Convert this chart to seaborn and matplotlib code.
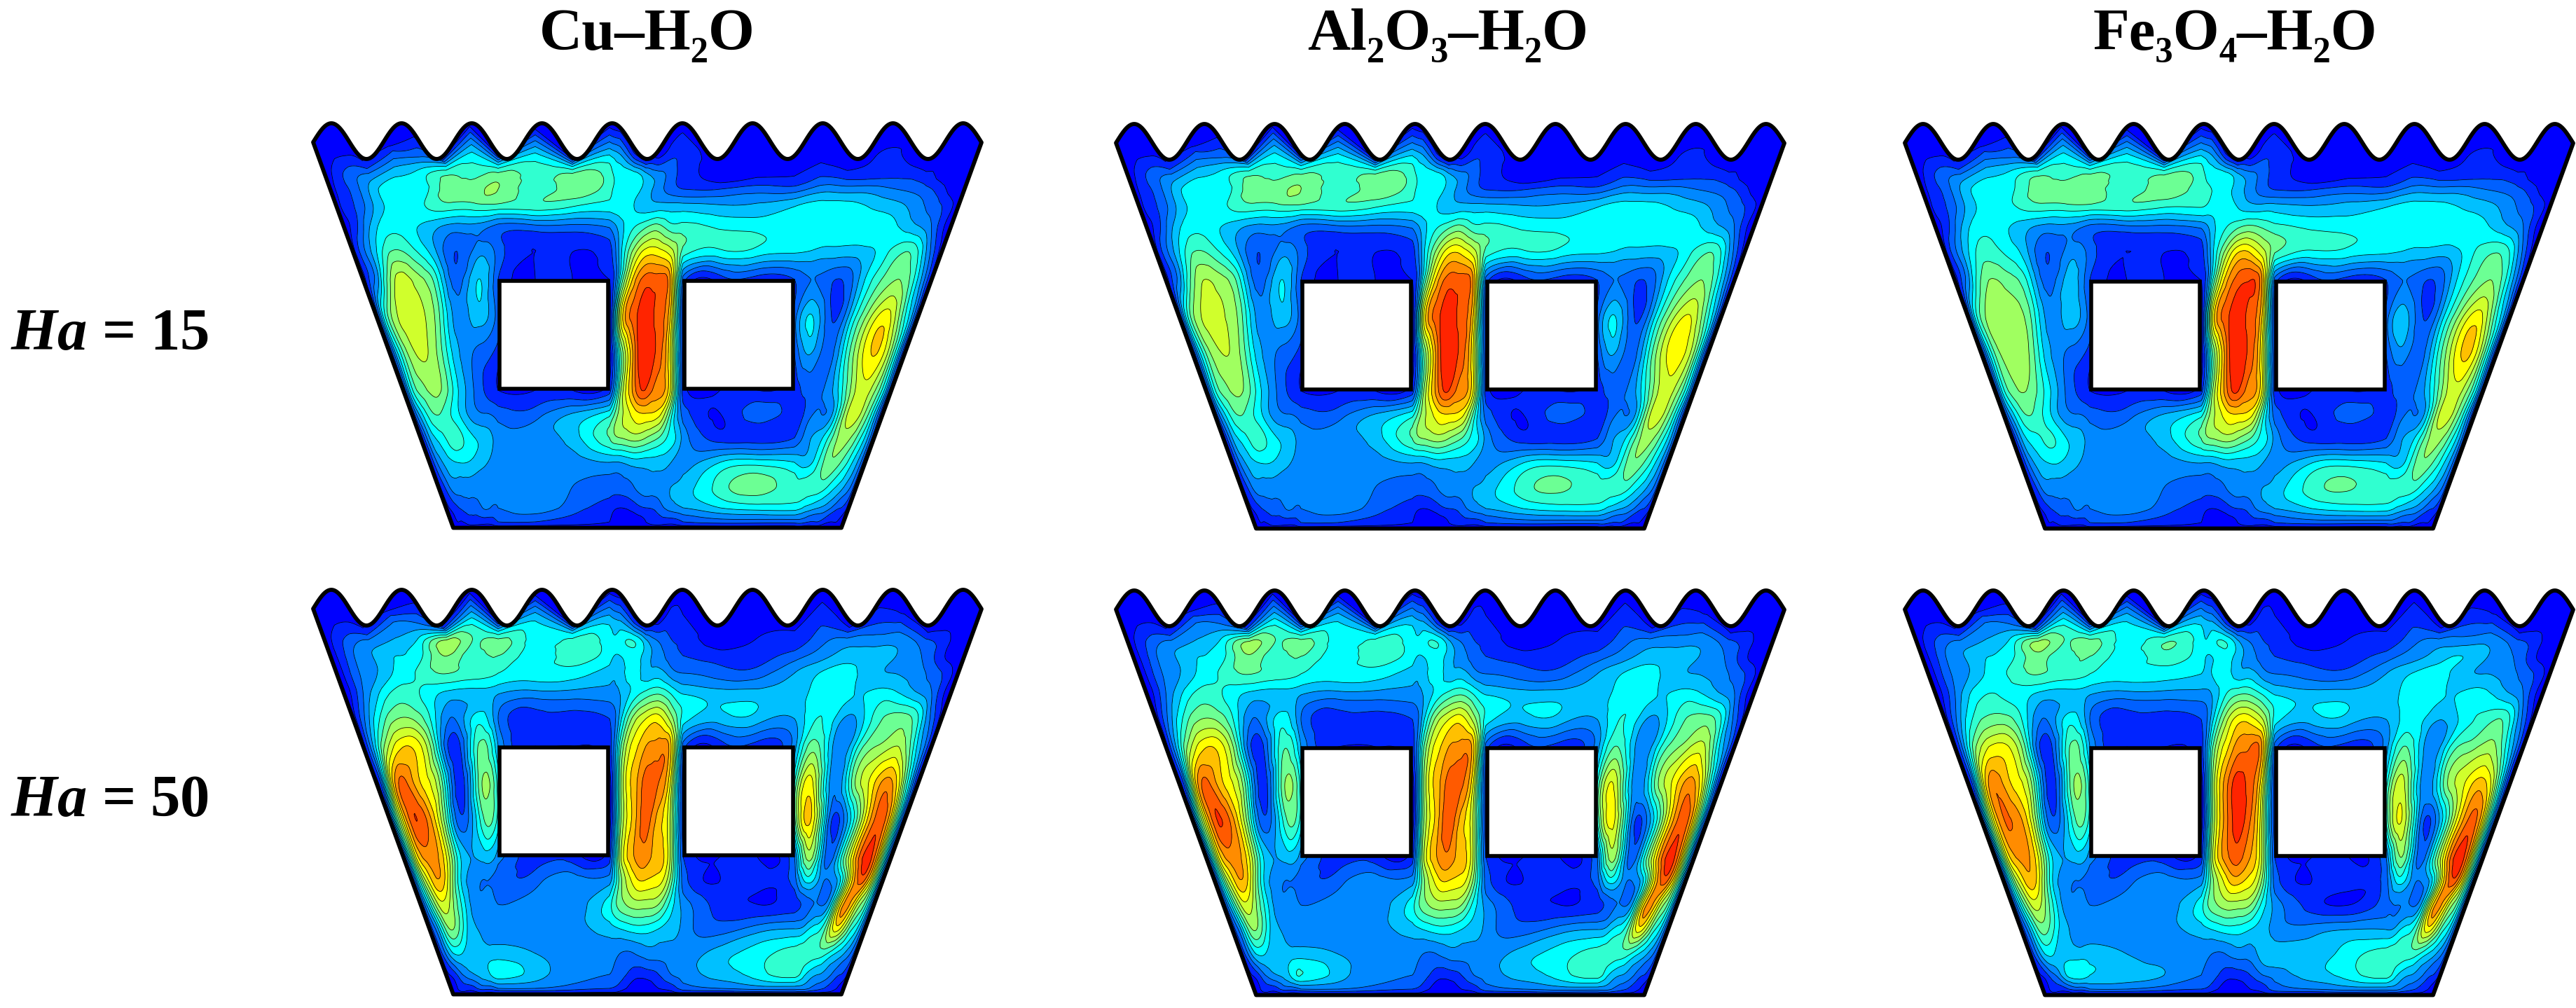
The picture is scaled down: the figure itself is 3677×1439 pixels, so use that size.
import numpy as np
import matplotlib
matplotlib.use('Agg')
import matplotlib.pyplot as plt
import matplotlib.tri as mtri
from matplotlib.patches import Polygon, Rectangle
import seaborn as sns

sns.set_theme(style='white')
plt.rcParams['font.family'] = ['Liberation Serif', 'DejaVu Serif']
plt.rcParams['mathtext.fontset'] = 'custom'
plt.rcParams['mathtext.bfit'] = 'Liberation Serif:italic:bold'
plt.rcParams['mathtext.rm'] = 'Liberation Serif:bold'

# text
fluids = ['Cu–H₂O', 'Al₂O₃–H₂O', 'Fe₃O₄–H₂O']
ha_labels = ['$\\mathbfit{Ha}$ = 15', '$\\mathbfit{Ha}$ = 50']

# colours of the contour bands
band_colors = ['#0000ff', '#0024ff', '#0060ff', '#0088ff', '#00c0ff', '#00ffff', '#30ffd0', '#6cff94',
               '#a0ff60', '#d0ff2c', '#ffff00', '#ffc000', '#ff8c00', '#ff5a00', '#ff2400']

# field values are read as band numbers (0 = deep blue ... 14 = red)
# one row per height in row_y[1:-1], one value per mesh column, walls are 0 and added later
cu_ha15 = [
    [0,0,.5,1,1.5,2.5,3.5,4,4, 4,4,3.5, 3,2,2,1,1,1, 0,0,0, 0,0,.5,.5,0,0,0,0],
    [0,1,2,3,4,5,6.5,6,7, 6,7,6, 5,5,4,3,2,1, 0,0,.5, 1,1,1,1,1,0,0,0],
    [0,1,2,4,5,5,7,7,7.5, 6,7,6, 5,5,4,3,2,1.5, 1.5,2,2, 3,3,3,2.5,2,1,0,0],
    [0,1,2,4,5,5.5,6,6,6, 6,5.5,5, 5,4.5,4,4,4,4, 3.7,3.8,4.5, 5,5,4.5,4,3,2,1,0],
    [0,1,3,5,5,4,3,3,2, 2,2,2.5, 4,5.5,6.5,7,6,6, 5.4,5.2,5.2, 5.3,5.3,5.2,5,4,3,1,0],
    [0,2,4,6.5,6,4,1.5,3,2, .5,.5,1, 4,8,10,10,9,6, 5.2,5,4.6, 4.2,4,4,5,6.5,5,2,0],
    [0,2,5,8.8,8,5.5,2,4.5,1.5, .5,.5,.5, 5,11,13,13,11,2, 1,1,1.5, 2.5,1.5,3,6,7.5,6,3,0],
    [0,5,8,9,8.5,5.5,3,4,2, 0,0,0, 9,13,14.6,13,10,1, 0,0,2, 4.5,1.5,4,8,10,7,4,0],
    [0,4,7,8.6,8,5,3,2,1, 0,0,0, 6,12,14.6,13,9,1, 0,0,1.5, 3.5,2,5,9,10.5,8,4,0],
    [0,4,6.5,7.5,7.5,5,3,1.5,.5, .5,.5,1, 7,12,13.4,12,9,1, .5,.5,1, 2,2.5,4.5,8,9,7,4,0],
    [0,3,5,6.5,6,4.5,3,2.5,2, 2,3.5,5, 8,10,10.5,10,6,2, .5,2,1, 2,2.5,4,8.5,8.5,6,3,0],
    [0,2,4,5,6,5.5,4.5,4,3, 3,4,6.5, 7.5,8,7.5,6.5,5,3, 1,1,1.5, 3,4,6,8,7,5,3,0],
    [0,1.5,3,4,4.5,4.5,4,3.5,3, 3,3,3.5, 3.5,4,4,4,3.5,3, 4.5,5,4.5, 4,5,7,7,5.5,4,2.5,0],
    [0,1,2,3,3,3,3,3,3, 3,2.5,2, 2,2.5,3,3,3.5,4, 6,7,6, 6,6,6,5,4,3,2,0],
    [0,.5,1,1.5,2,2,2.5,2.5,2.5, 3,2,1, .5,1,1.5,2,3,3.5, 4.5,5,5, 4.5,4,3.5,3,2,1.5,1,0],
    [0,0,.5,.5,1,1,1,1,1.5, 1.5,1,.5, 0,0,.5,1,1,1.5, 2,2,2, 2,1.5,1.5,1,.5,.5,0,0],
]
al_ha15 = [
    [0,0,.5,1,1.5,2.5,3.5,4,4, 4,4,3.5, 3,2,2,1,1,1, 0,0,0, 0,0,.5,.5,0,0,0,0],
    [0,1,2,3,4,5,6.5,6,6.8, 6,7,6, 5,5,4,3,2,1, 0,0,.5, 1,1,1,1,1,0,0,0],
    [0,1,2,4,5,5,7,7,7.5, 6,7,6, 5,5,4,3,2,1.5, 1.5,2,2, 3,3,3,2.5,2,1,0,0],
    [0,1,2,4,5,5.5,6,6,6, 6,5.5,5, 5,4.5,4,4,4,4, 3.7,3.8,4.5, 5,5,4.5,4,3,2,1,0],
    [0,1,3,5,5,4,3,3,2, 2,2,2.5, 4,5.5,6.5,7,6,6, 5.4,5.2,5.2, 5.3,5.3,5.2,5,4,3,1,0],
    [0,2,4,6.5,6,4,1.5,3,2, .5,.5,1, 4,8,10.3,10.3,9,6, 5.2,5,4.6, 4.2,4,4,5,6.5,5,2,0],
    [0,2,5,8.3,8,5.5,2,4.5,1.5, .5,.5,.5, 5,11,13,13,11,2, 1,1,1.5, 2.5,1.5,3,6,7.5,6,3,0],
    [0,5,8,8.8,8.4,5.5,3,4,2, 0,0,0, 9,13,14.6,13,10,1, 0,0,2, 4.5,1.5,4,8,9.6,7,4,0],
    [0,4,7,8.4,8,5,3,2,1, 0,0,0, 6,12,14.6,13,9,1, 0,0,1.5, 3.5,2,5,9,10,8,4,0],
    [0,4,6.5,7.5,7.4,5,3,1.5,.5, .5,.5,1, 7,12,13.5,12,9,1, .5,.5,1, 2,2.5,4.5,8,9,7,4,0],
    [0,3,5,6.5,6,4.5,3,2.5,2, 2,3.5,5, 8,10,10.5,10,6,2, .5,2,1, 2,2.5,4,8.5,8.5,6,3,0],
    [0,2,4,5,6,5.5,4.5,4,3, 3,4,6.5, 7.5,8,7.5,6.5,5,3, 1,1,1.5, 3,4,6,8,7,5,3,0],
    [0,1.5,3,4,4.5,4.5,4,3.5,3, 3,3,3.5, 3.5,4,4,4,3.5,3, 4.5,5,4.5, 4,5,7,7,5.5,4,2.5,0],
    [0,1,2,3,3,3,3,3,3, 3,2.5,2, 2,2.5,3,3,3.5,4, 6,6.7,6, 6,6,6,5,4,3,2,0],
    [0,.5,1,1.5,2,2,2.5,2.5,2.5, 3,2,1, .5,1,1.5,2,3,3.5, 4.5,5,5, 4.5,4,3.5,3,2,1.5,1,0],
    [0,0,.5,.5,1,1,1,1,1.5, 1.5,1,.5, 0,0,.5,1,1,1.5, 2,2,2, 2,1.5,1.5,1,.5,.5,0,0],
]
fe_ha15 = [
    [0,0,.5,1,1.5,2.5,3.5,4,4, 4,4,3.5, 3,2,2,1,1,1, 0,0,0, 0,0,.5,.5,0,0,0,0],
    [0,1,2,3,4,5,6.5,6,6.8, 6,6.8,6, 5,5,4,3,2,1, 0,0,.5, 1,1,1,1,1,0,0,0],
    [0,1,2,4,5,5.5,7,7,7.2, 6,7,6, 5.5,5,4,3,2,1.5, 1.5,2,2, 3,3,3,2.5,2,1,0,0],
    [0,1,2,4,5,5.5,6,6,6, 6,5.5,5.5, 5,5,4.5,4,4,4, 3.7,4,4.5, 5,5,4.5,4,3,2,1,0],
    [0,1,3,5,5,4,3,3,2, 2,2,2.5, 4,5.5,6.5,7,6.5,6, 5.4,5.2,5.2, 5.3,5.3,5.2,5,4,3,1,0],
    [0,2,4,6,5.5,4,1.5,3,2, .5,.5,1, 4,8,10.5,10.5,9,6.5, 5.2,5,4.6, 4.2,4,4,5.5,6.5,5,2,0],
    [0,2,5,7.5,7,5,2,4,1.5, .5,.5,.5, 5,11,13,13.5,11,2, 1,1,1.5, 2.5,1.5,3,6,7.5,6,3,0],
    [0,5,7.5,8.3,8,5.5,3,4,2, 0,0,0, 9,13,14.6,13,10,1, 0,0,2, 4,1.5,4,8,10,7,4,0],
    [0,4,7,8.1,8,5,3,2,1, 0,0,0, 6,12,14.6,13,9,1, 0,0,1.5, 3,2,5,9,10.7,8,4,0],
    [0,4,6.5,7.5,7,5,3,1.5,.5, .5,.5,1, 7,12,13.6,12,9,1, .5,.5,1, 2,2.5,4.5,8,9,7,4,0],
    [0,3,5,6.5,6,4.5,3,2.5,2, 2,3.5,5, 8,10,10.5,10,6,2, .5,2,1, 2,2.5,4,8.5,8.5,6,3,0],
    [0,2,4,5,5.6,5.5,4.5,4,3, 3,4,6.5, 7.5,8,7.5,6.5,5,3, 1,1,1.5, 3,4,6,8,7,5,3,0],
    [0,1.5,3,4,4.5,4.5,4,3.5,3, 3,3,3.5, 3.5,4,4,4,3.5,3, 4.5,5,4.5, 4,5,7,7,5.5,4,2.5,0],
    [0,1,2,3,3,3,3,3,3, 3,2.5,2, 2,2.5,3,3,3.5,4, 6,6.6,6, 6,6,6,5,4,3,2,0],
    [0,.5,1,1.5,2,2,2.5,2.5,2.5, 3,2,1, .5,1,1.5,2,3,3.5, 4.5,5,5, 4.5,4,3.5,3,2,1.5,1,0],
    [0,0,.5,.5,1,1,1,1,1.5, 1.5,1,.5, 0,0,.5,1,1,1.5, 2,2,2, 2,1.5,1.5,1,.5,.5,0,0],
]
cu_ha50 = [
    [0,0,.5,1,2,2.5,3,4,4, 4,4,3.5, 3,2.5,2,1,1,.5, 0,0,.5, 1,1,1.5,1,.5,0,0,0],
    [0,1,2,3,3.5,5,8,6.5,7, 5,6,5, 5,5.5,4,2.5,1.5,1, 0,.5,1, 2,3,3,3,2,1,0,0],
    [0,1,2.5,3.5,4.5,5.5,7.5,6,6.5, 5,6,5, 4.5,5,4,3,2,1.5, 1,1,2, 3,4,4,3.5,2.5,1,0,0],
    [0,1,2.5,3.5,5,6,6.5,6,5.5, 5,5,4, 4,5,4,4,3,2.5, 2,2,3.5, 4.5,5,4,3.5,3,2,1,0],
    [0,1,3,5,6,5,4,4,3.5, 3,3,3, 3.5,5,6,6.5,5.5,4.5, 4,4,4, 5,5,4.5,5,4,3,1,0],
    [0,2,4.5,7,7.5,5,2.5,5,2.5, 1,1,1.5, 4,8,9.5,10,8,5, 4,4,3.5, 5.5,4,4,6.5,7,5,2,0],
    [0,3,7,10,10,5,1,6.5,3.5, .5,.5,1, 6,10,11.5,12,10.5,2, 1,1,3, 7,3,5,7.5,8.5,6,3,0],
    [0,4,11,12.5,10,6,1,7,5, 0,0,0, 7,11,13,12.5,9,1, 0,0,5.5, 9.5,3,6,9.5,12,9,4,0],
    [0,6,11,13.5,11,5,2,6,5, 0,0,0, 7,11,13,11,8,1, 0,0,6, 10.5,3,2.5,8,13,11,5,0],
    [0,5,10,12,11,6,3.5,4,3, 1,1,1, 8,11.5,12,11,8,1.5, .5,.5,2.5, 8,3,4,10,14,11,5,0],
    [0,4,8,11,10,5,3,2.5,2, 2,3,3, 7,10,10.5,10,7,2, .5,1,2, 5,3,3,8,13,10,5,0],
    [0,3,6,9,8,5,3,3,2.5, 3,3,5, 7,8,8,7.5,5,3, 1,.5,1, 2,2.5,4,11,10,7,4,0],
    [0,2,4,7,7,4.5,3.5,3,3, 3,3,4, 4.5,5,5,4.5,4,3, 2,3,3.5, 4,5,7,10,7,5,3,0],
    [0,1.5,3,4.5,4.5,4,4,4,4, 3.5,3,3, 2.5,2.5,3,3,3,3, 4,5,6, 6,6,6,5,4,3,2,0],
    [0,.5,1,2,3,3.5,4,4.5,5, 4,3,2.5, 2,1,1,1.5,2.5,3, 4,5,6, 5,4,3.5,3,2,1.5,1,0],
    [0,0,.5,1,1,1.5,2,2,2.5, 2.5,2,1.5, 1,0,0,.5,1,2, 2.5,3,3, 3,2.5,2,1.5,1,.5,0,0],
]
al_ha50 = [
    [0,0,.5,1,2,2.5,3,4,4, 4,4,3.5, 3,2.5,2,1,1,.5, 0,0,.5, 1,1,1.5,1,.5,0,0,0],
    [0,1,2,3,3.5,5,7.8,6.5,7, 5,6,5, 5,5.5,4,2.5,1.5,1, 0,.5,1, 2,3,3,3,2,1,0,0],
    [0,1,2.5,3.5,4.5,5.5,7.3,6,6.5, 5,6,5, 4.5,5,4,3,2,1.5, 1,1,2, 3,4,4,3.5,2.5,1,0,0],
    [0,1,2.5,3.5,5,6,6.5,6,5.5, 5,5,4, 4,5,4,4,3,2.5, 2,2,3.5, 4.5,5,4,3.5,3,2,1,0],
    [0,1,3,5,6,5,4,4,3.5, 3,3,3, 3.5,5,6,6.5,5.5,4.5, 4,4,4, 5,5,4.5,5,4,3,1,0],
    [0,2,4.5,7,7.5,5,2.5,5,2.5, 1,1,1.5, 4,8,9.5,10,8,5, 4,4,3.5, 5.5,4,4,6.5,7,5,2,0],
    [0,3,7,10,10,5,1,6,3.5, .5,.5,1, 6,10,11.5,12,10.5,2, 1,1,3, 6.5,3,5,7.5,9,6,3,0],
    [0,4,11,12.5,10,6,1,7,5, 0,0,0, 7,11,13,12.7,9,1, 0,0,5.5, 9,3,6,9.5,12,9,4,0],
    [0,6,11,13.6,11,5,2,6,5, 0,0,0, 7,11,13.3,11,8,1, 0,0,5.5, 9.7,3,2.5,8,13,11,5,0],
    [0,5,10,12,11,6,3.5,4,3, 1,1,1, 8,11.5,12.2,11,8,1.5, .5,.5,2.5, 8,3,4,10,14,11,5,0],
    [0,4,8,11,10,5,3,2.5,2, 2,3,3, 7,10,10.5,10,7,2, .5,1,2, 5,3,3,8,13,10,5,0],
    [0,3,6,9,8,5,3,3,2.5, 3,3,5, 7,8,8,7.5,5,3, 1,.5,1, 2,2.5,4,11,10,7,4,0],
    [0,2,4,7,7,4.5,3.5,3,3, 3,3,4, 4.5,5,5,4.5,4,3, 2,3,3.5, 4,5,7,10,7,5,3,0],
    [0,1.5,3,4.5,4.5,4,4,4,4, 3.5,3,3, 2.5,2.5,3,3,3,3, 4,5,6, 6,6,6,5,4,3,2,0],
    [0,.5,1,2,3,3.5,4,5,5.5, 4,3,2.5, 2,1,1,1.5,2.5,3, 4,5,6, 5,4,3.5,3,2,1.5,1,0],
    [0,0,.5,1,1,1.5,2,2,2.5, 2.5,2,1.5, 1,0,0,.5,1,2, 2.5,3,3, 3,2.5,2,1.5,1,.5,0,0],
]
fe_ha50 = [
    [0,0,.5,1,2,2.5,3,4,4, 4,4,3.5, 3,2.5,2,1,1,.5, 0,0,.5, 1,1,1.5,1,.5,0,0,0],
    [0,1,2,3,3.5,5,7.8,6.5,7, 5,6.5,5, 5,5.5,4,2.5,1.5,1, 0,.5,1, 2,3,3,3,2,1,0,0],
    [0,1,2.5,3.5,4.5,5.5,7,6,6.5, 5,6,5, 4.5,5,4,3,2,1.5, 1,1,2, 3,4,4.5,3.5,2.5,1,0,0],
    [0,1,2.5,3.5,5,6,6.5,6,5.5, 5,5,4.5, 4.5,5,4,4,3,2.5, 2,2,3.5, 4.5,5,4,3.5,3,2,1,0],
    [0,1,3,5,5.5,5,4,4,3.5, 3,3,3, 3.5,5.5,6.5,6.5,5.5,4.5, 4,4,4, 5,5,4.5,5,4,3,1,0],
    [0,2,4.5,6.5,7,5,2.5,5,2.5, 1,1,1.5, 4,8,10,10,8.5,5, 4,4,3.5, 5,4,4,5.5,6.5,5,2,0],
    [0,3,7,9.5,9.5,5,1,6.5,3.5, .5,.5,1, 6,10,12,12.5,11,2, 1,1,3, 6.5,3,5,7,8,6,3,0],
    [0,4,10.5,12,10,6,1,7,5, 0,0,0, 7,12,14,13,9,1, 0,0,5, 8.5,3,6,9,11,9,4,0],
    [0,6,11,12.6,11,5,2,6,5, 0,0,0, 7,12,14,12.5,8,1, 0,0,5.5, 9.3,3,2.5,8,12.7,11,5,0],
    [0,5,10,11.7,11,6,3.5,4,3, 1,1,1, 8,12,13,11.5,8,1.5, .5,.5,2.5, 7.5,3,4,10,14.2,11,5,0],
    [0,4,8,10.7,10,5,3,2.5,2, 2,3,3, 7,10,11,10,7,2, .5,1,2, 5,3,3,8,13.2,10,5,0],
    [0,3,6,8.7,8,5,3,3,2.5, 3,3,5, 7,8,8,7.5,5,3, 1,.5,2, 2.5,2.5,4,11,10,7,4,0],
    [0,2,4,6.5,6.5,4.5,3.5,3,3, 3,3,4, 4.5,5,5,4.5,4,3, 3,3.5,3.5, 4,5,7,10,7,5,3,0],
    [0,1.5,3,4.5,4.5,4,4,4,4, 3.5,3,3, 2.5,2.5,3,3,4,4, 4,5,6, 6,6,6,5,4,3,2,0],
    [0,.5,1,2,3,4.5,5,5,4.5, 4,3.5,2.5, 2,1,1,1.5,2.5,3, 4,5,6, 5,4,3.5,3,2,1.5,1,0],
    [0,0,.5,1,1,1.5,2,2,2.5, 2.5,2,1.5, 1,0,0,.5,1,2, 2.5,3,3, 3,2.5,2,1.5,1,.5,0,0],
]
panels = [[cu_ha15, al_ha15, fe_ha15], [cu_ha50, al_ha50, fe_ha50]]

# mesh of a panel, in pixels of the first panel
row_y = [176, 237, 252, 270, 295, 325, 360, 399, 452, 505, 557, 590, 625, 660, 695, 725, 745, 753.5]
wave_share = [1, .5, .15] + [0] * 15
side_frac = [0, .06, .14, .25, .4, .55, .7, .85, 1]
mid_x = [711, 764, 817, 870, 885, 905, 922, 940, 958, 975, 1028, 1081, 1134]
squares = [(711, 399), (975, 399)]
square_size = 159, 158
corners = 447, 1401, 201, 647, 1201, 753.5
panel_dx = [0, 1146, 2272]
panel_dy = [[0, 1, 1], [666, 667, 667]]


def wave(x):
    return 201.5 - 25.5 * np.cos(2 * np.pi * (x - 473) / 100.2)


def make_mesh():
    x_l, x_r, y_top, x_bl, x_br, y_bot = corners
    slope = (x_bl - x_l) / (y_bot - y_top)
    xs = []
    for y in row_y:
        left = x_l + (y - y_top) * slope
        right = x_r - (y - y_top) * slope
        lo = [left + (711 - left) * f for f in side_frac]
        hi = [1134 + (right - 1134) * (1 - f) for f in side_frac[::-1][1:]]
        xs.append(lo + mid_x[1:-1] + [1134] + hi)
    xs = np.array(xs)
    ys = np.array(row_y, float)[:, None] * np.ones_like(xs)
    ys[0] = wave(xs[0])
    for j in (1, 2):
        ys[j] = row_y[j] + wave_share[j] * (wave(xs[j]) - 227)
    return xs, ys


def outline():
    x_l, x_r, y_top, x_bl, x_br, y_bot = corners
    top = np.linspace(x_l, x_r, 600)
    return np.vstack([np.column_stack([top, wave(top)]), [x_br, y_bot], [x_bl, y_bot]])


mesh_x, mesh_y = make_mesh()
n_rows, n_cols = mesh_x.shape

# triangles in index space, refined there and mapped back to the mesh
ii, jj = np.meshgrid(np.arange(n_cols), np.arange(n_rows))
a = (jj[:-1, :-1] * n_cols + ii[:-1, :-1]).ravel()
tris = np.vstack([np.column_stack([a, a + 1, a + n_cols]), np.column_stack([a + 1, a + n_cols + 1, a + n_cols])])
index_tri = mtri.Triangulation(ii.ravel().astype(float), jj.ravel().astype(float), tris)
refiner = mtri.UniformTriRefiner(index_tri)

palette = sns.color_palette(band_colors)
levels = [-1000] + [k + .5 for k in range(14)] + [1000]

fig = plt.figure(figsize=(36.77, 14.39), dpi=100)
fig.patch.set_facecolor('white')
W, H = 3677, 1439

for r, row in enumerate(panels):
    for c, grid in enumerate(row):
        dx, dy = panel_dx[c], panel_dy[r][c]
        ax = fig.add_axes([(430 + dx) / W, 1 - (770 + dy) / H, 990 / W, 610 / H])
        ax.set_xlim(430, 1420)
        ax.set_ylim(770, 160)
        ax.axis('off')

        z = np.pad(np.array(grid, float), ((1, 1), (0, 0)))
        fine_tri, fine_z = refiner.refine_field(z.ravel(), subdiv=4)
        u, v = fine_tri.x, fine_tri.y
        i0 = np.clip(np.floor(u).astype(int), 0, n_cols - 2)
        j0 = np.clip(np.floor(v).astype(int), 0, n_rows - 2)
        fu, fv = u - i0, v - j0


        def bilinear(m):
            return (m[j0, i0] * (1 - fu) * (1 - fv) + m[j0, i0 + 1] * fu * (1 - fv)
                    + m[j0 + 1, i0] * (1 - fu) * fv + m[j0 + 1, i0 + 1] * fu * fv)


        tri = mtri.Triangulation(bilinear(mesh_x), bilinear(mesh_y), fine_tri.triangles)

        domain = Polygon(outline(), closed=True, facecolor=band_colors[0], edgecolor='none', zorder=0)
        ax.add_patch(domain)
        filled = ax.tricontourf(tri, fine_z, levels=levels, colors=palette, zorder=1)
        filled.set_clip_path(domain)
        lines = ax.tricontour(tri, fine_z, levels=levels[1:-1], colors='black', linewidths=.55, zorder=2)
        lines.set_clip_path(domain)

        for sq_x, sq_y in squares:
            ax.add_patch(Rectangle((sq_x + 2, sq_y + 2), square_size[0] - 4, square_size[1] - 4, facecolor='white',
                                   edgecolor='black', linewidth=4, joinstyle='miter', zorder=3))
        ax.add_patch(Polygon(outline(), closed=True, fill=False, edgecolor='black', linewidth=4.2,
                             joinstyle='round', zorder=4, clip_on=False))

title_x = [924, 2067, 3190]
for name, x in zip(fluids, title_x):
    fig.text(x / W, 1 - 71 / H, name, ha='center', va='baseline', fontsize=61, fontweight='bold', color='black')

label_y = [499, 1165]
for label, y in zip(ha_labels, label_y):
    fig.text(15 / W, 1 - y / H, label, ha='left', va='baseline', fontsize=61, fontweight='bold', color='black')

fig.savefig('out.png', dpi=100, facecolor='white')
